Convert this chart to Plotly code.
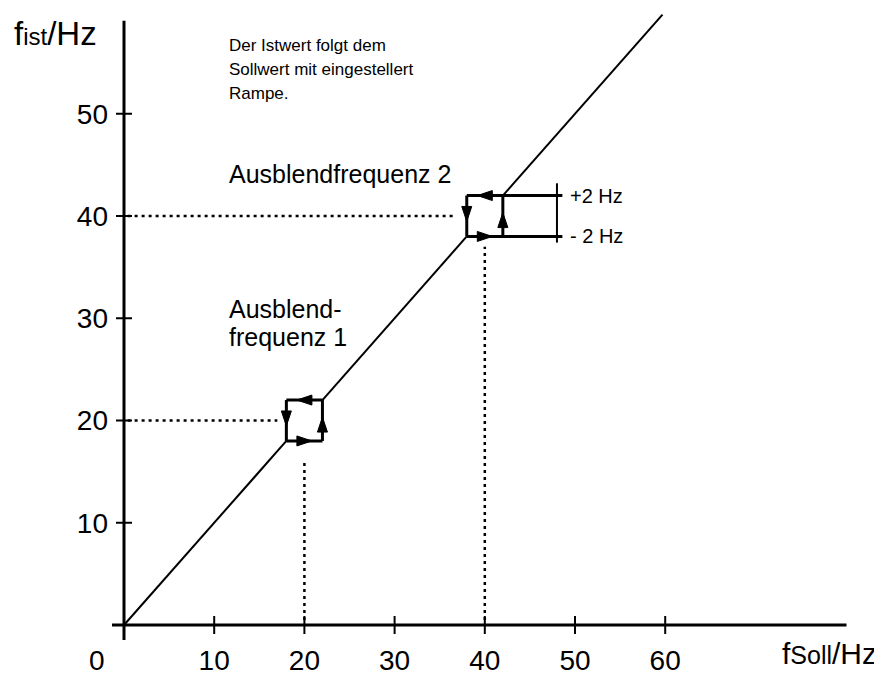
import plotly.graph_objects as go

# ---------------- data ----------------
x_ticks = [10, 20, 30, 40, 50, 60]
y_ticks = [10, 20, 30, 40, 50]
skip_freqs = [20, 40]          # Ausblendfrequenz 1 / 2
skip_band = 2                  # +/- Hz
f_max = 59.7
dot_vert_top = [16, 37]        # upper end of vertical dotted guide (Hz)
dot_horiz_end = [17, 36.8]     # right end of horizontal dotted guide (Hz)
bracket_x = 48
bracket_lo, bracket_hi = 37.4, 43.2
x_axis_span = [-1.33, 80.1]
y_axis_span = [-1.47, 59.1]
band_labels = ["+2 Hz", "- 2 Hz"]
desc_lines = ["Der Istwert folgt dem", "Sollwert mit eingestellert", "Rampe."]

# ---------------- geometry helpers ----------------
PAGE_OFF = 8                   # default body margin of the html page
W, H = 882 - PAGE_OFF, 678 - PAGE_OFF
sx, sy = 9.02, 10.225          # px per Hz
OX, OY = 124, 625              # origin in page pixels
XR = [(PAGE_OFF - OX) / sx, (PAGE_OFF + W - OX) / sx]
YR = [(OY - (PAGE_OFF + H)) / sy, (OY - PAGE_OFF) / sy]


def px2x(p):
    return (p - OX) / sx


def py2y(p):
    return (OY - p) / sy


FONT = "Liberation Sans, Arial, sans-serif"
BLACK = "#000000"

fig = go.Figure()


def seg(x, y, width=2, dash="solid"):
    fig.add_trace(go.Scatter(x=x, y=y, mode="lines", hoverinfo="skip",
                             line=dict(color=BLACK, width=width, dash=dash),
                             showlegend=False))


def arrow(cx, cy, dx, dy, L=15, hw=5):
    # dx, dy: unit direction in screen space (y up)
    tx, ty = cx + dx * L / 2 / sx, cy + dy * L / 2 / sy
    bx, by = cx - dx * L / 2 / sx, cy - dy * L / 2 / sy
    px, py = -dy, dx
    xs = [tx, bx + px * hw / sx, bx - px * hw / sx, tx]
    ys = [ty, by + py * hw / sy, by - py * hw / sy, ty]
    fig.add_trace(go.Scatter(x=xs, y=ys, mode="lines", fill="toself",
                             fillcolor=BLACK, line=dict(color=BLACK, width=1),
                             hoverinfo="skip", showlegend=False))


# axes lines
seg(x_axis_span, [0, 0], width=3)
seg([0, 0], y_axis_span, width=3)

# tick marks crossing the axes
tx, ty = [], []
for v in x_ticks:
    tx += [v, v, None]
    ty += [-9 / sy, 9 / sy, None]
seg(tx, ty, width=2)
tx, ty = [], []
for v in y_ticks:
    tx += [-8 / sx, 8 / sx, None]
    ty += [v, v, None]
seg(tx, ty, width=2)

# dotted guides
for f, vt, he in zip(skip_freqs, dot_vert_top, dot_horiz_end):
    seg([f, f], [0.5, vt], width=2.5, dash="3px,4px")
    seg([0.4, he], [f, f], width=2.5, dash="3px,4px")

# characteristic: diagonal with skip windows
lo0 = 0
for f in skip_freqs:
    seg([lo0, f - skip_band], [lo0, f - skip_band], width=2)
    lo0 = f + skip_band
seg([lo0, f_max], [lo0, f_max], width=2)

for i, f in enumerate(skip_freqs):
    a, b = f - skip_band, f + skip_band
    right = bracket_x + 0.6 if i == 1 else b
    seg([a, right], [b, b], width=3)      # top edge
    seg([a, right], [a, a], width=3)      # bottom edge
    seg([a, a], [a, b], width=3)          # left edge
    seg([b, b], [a, b], width=3)          # right edge
    arrow(f, b, -1, 0)                     # top: to the left
    arrow(a, f + 0.2, 0, -1)               # left: downwards
    arrow(f, a, 1, 0)                      # bottom: to the right
    arrow(b, f - 0.4, 0, 1)                # right: upwards

# bracket for +/-2 Hz
seg([bracket_x, bracket_x], [bracket_lo, bracket_hi], width=2)

# ---------------- annotations ----------------
ann = []


def txt(x, y, s, size, xanchor="left", yanchor="middle", align="left"):
    ann.append(dict(x=x, y=y, xref="x", yref="y", text=s, showarrow=False,
                    xanchor=xanchor, yanchor=yanchor, align=align,
                    font=dict(family=FONT, size=size, color=BLACK)))


f2 = skip_freqs[1]
txt(bracket_x + 1.2, f2 + skip_band, band_labels[0], 20)
txt(bracket_x + 1.2, f2 - skip_band, band_labels[1], 20)

for line, yc in zip(desc_lines, [45, 69, 93]):
    txt(px2x(227), py2y(yc), line, 17)
txt(px2x(227), py2y(174), "Ausblendfrequenz 2", 25)
txt(px2x(227), py2y(309), "Ausblend-", 25)
txt(px2x(227), py2y(337), "frequenz 1", 25)

txt(px2x(97), py2y(660), "0", 28, xanchor="center")
txt(px2x(12), py2y(33),
    '<span style="font-size:33px">f</span><span style="font-size:24px">ist</span>'
    '<span style="font-size:33px">/Hz</span>', 33)
txt(px2x(879), py2y(653),
    '<span style="font-size:30px">f</span><span style="font-size:25px">Soll</span>'
    '<span style="font-size:30px">/Hz</span>', 30, xanchor="right")

fig.update_layout(
    width=W, height=H,
    margin=dict(l=0, r=0, t=0, b=0),
    paper_bgcolor="white", plot_bgcolor="white",
    showlegend=False,
    annotations=ann,
    xaxis=dict(range=XR, showgrid=False, zeroline=False, showline=False,
               tickmode="array", tickvals=x_ticks, ticks="",
               anchor="free", position=(y_axis_span[0] - YR[0]) / (YR[1] - YR[0]),
               ticklabelstandoff=1,
               tickfont=dict(family=FONT, size=28, color=BLACK), fixedrange=True),
    yaxis=dict(range=YR, showgrid=False, zeroline=False, showline=False,
               tickmode="array", tickvals=y_ticks, ticks="",
               anchor="free", position=(x_axis_span[0] - XR[0]) / (XR[1] - XR[0]),
               ticklabelstandoff=4,
               tickfont=dict(family=FONT, size=28, color=BLACK), fixedrange=True),
)

fig.write_html("out.html")
